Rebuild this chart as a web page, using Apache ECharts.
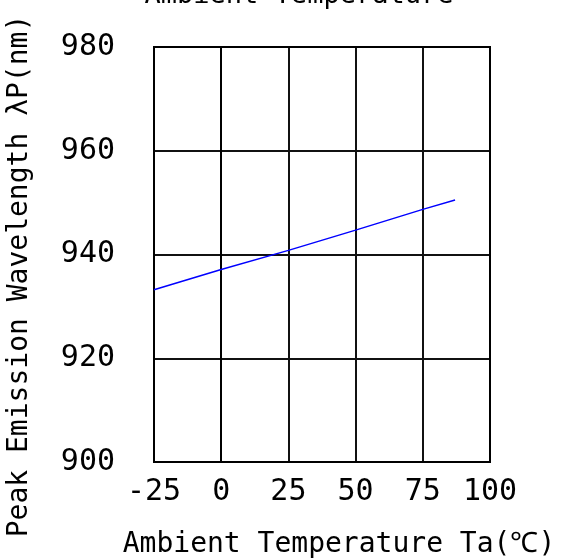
<!DOCTYPE html>
<html><head><meta charset="utf-8">
<script src="https://cdn.jsdelivr.net/npm/echarts@6/dist/echarts.min.js"></script>
<style>html,body{margin:0;padding:0;background:#fff}#c{width:571px;height:560px}</style>
</head><body><div id="c"></div>
<script>
const temps = [-25, 0, 25, 50, 75, 87];
const wavelength = [933.2, 937.1, 940.8, 944.7, 948.7, 950.5];
const xTicks = [-25, 0, 25, 50, 75, 100];
const yTicks = [900, 920, 940, 960, 980];
const titleText = 'Ambient Temperature';
const xName = 'Ambient Temperature Ta(\u2103)';
const yName = 'Peak Emission Wavelength \u03bbP(nm)';

const FONT = '"DejaVu Sans Mono", "Liberation Mono", monospace';
const chart = echarts.init(document.getElementById('c'));
chart.setOption({
  animation: false,
  backgroundColor: '#fff',
  grid: {left: 154, right: 81, top: 47, bottom: 98},
  xAxis: {
    type: 'value', min: xTicks[0], max: xTicks[xTicks.length-1], interval: 25,
    axisLine: {show: true, lineStyle: {color: '#000', width: 2}},
    axisTick: {show: false},
    splitLine: {show: true, lineStyle: {color: '#111', width: 2}},
    axisLabel: {color: '#000', fontFamily: FONT, fontSize: 30, margin: 15}
  },
  yAxis: {
    type: 'value', min: yTicks[0], max: yTicks[yTicks.length-1], interval: 20,
    axisLine: {show: true, lineStyle: {color: '#000', width: 2}},
    axisTick: {show: false},
    splitLine: {show: true, lineStyle: {color: '#111', width: 2}},
    axisLabel: {color: '#000', fontFamily: FONT, fontSize: 30, margin: 39}
  },
  graphic: [
    {type: 'rect', shape: {x: 154, y: 47, width: 336, height: 415}, style: {fill: 'none', stroke: '#000', lineWidth: 2}, z: 100},
    {type: 'text', x: 299, y: 9, style: {text: titleText, font: '27px ' + FONT, fill: '#000', textAlign: 'center', textVerticalAlign: 'bottom'}},
    {type: 'text', x: 339, y: 545, style: {text: xName, font: '28px ' + FONT, fill: '#000', textAlign: 'center', textVerticalAlign: 'middle'}},
    {type: 'text', x: 20, y: 276, rotation: Math.PI/2, style: {text: yName, font: '28px ' + FONT, fill: '#000', textAlign: 'center', textVerticalAlign: 'middle'}}
  ],
  series: [{
    type: 'line', data: temps.map((t, i) => [t, wavelength[i]]),
    showSymbol: false, lineStyle: {color: '#0000ff', width: 1.5}, z: 200
  }]
});
</script></body></html>
